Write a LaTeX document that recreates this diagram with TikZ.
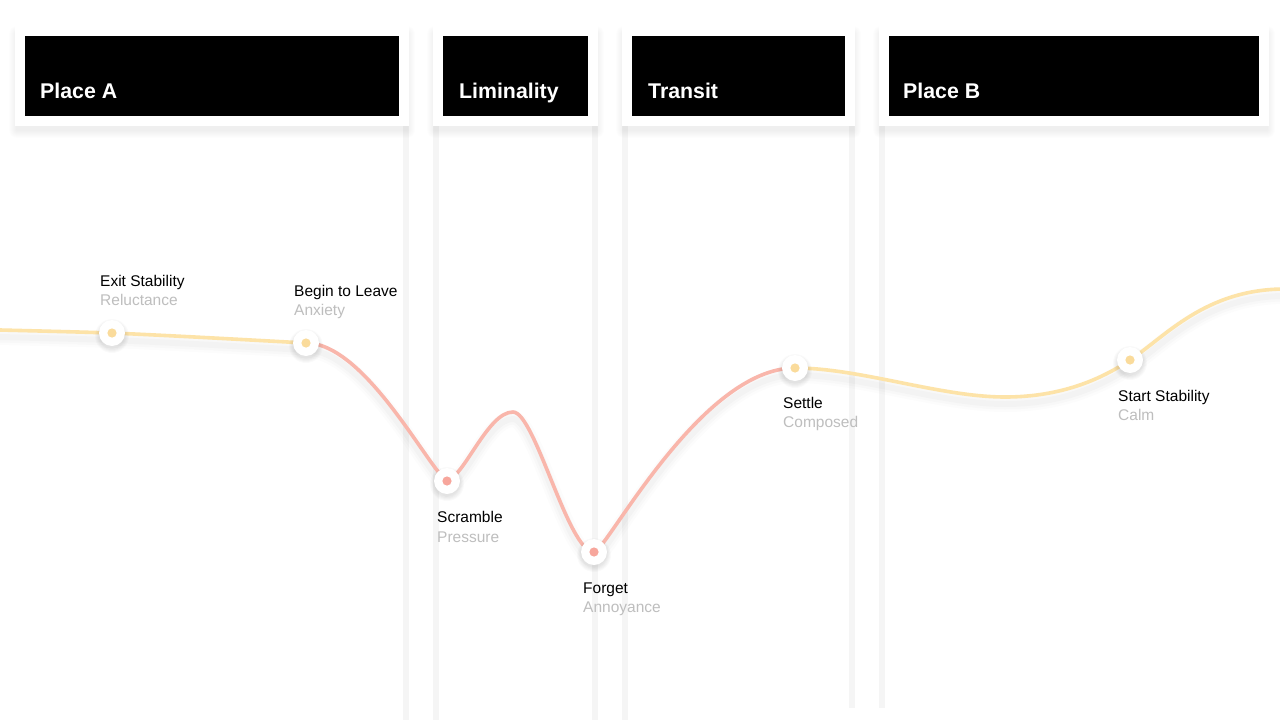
\documentclass[tikz,border=0pt]{standalone}
\usepackage{fontspec}
\setmainfont{Liberation Sans}
\usetikzlibrary{calc}
\definecolor{yel}{HTML}{FDE3A8}
\definecolor{yeldot}{HTML}{FADB9B}
\definecolor{pnk}{HTML}{F9B6AB}
\definecolor{pnkdot}{HTML}{F7A69C}
\definecolor{stripcol}{HTML}{F5F5F5}
\definecolor{subcol}{HTML}{BEBEBE}
\newcommand\softbox[4]{%
  \foreach \i in {1,...,8} {\fill[black, opacity=0.008, rounded corners=\i] (#1-\i+2, #2-\i+8) rectangle (#3+\i-2, #4+\i+4);}%
}
\newcommand\dotshadow[1]{%
  \foreach \r in {13,14,15,16,17} {\fill[black, opacity=0.018] ($(#1)+(0,3)$) circle (\r);}%
}
\begin{document}
\begin{tikzpicture}[x=1pt,y=-1pt,
  card/.style={rectangle, fill=black, draw=white, line width=10, inner sep=0, anchor=north west},
  hdr/.style={anchor=base west, inner sep=0, text=white, font=\bfseries\fontsize{21.3}{26}\selectfont},
  strip/.style={fill=stripcol},
  yline/.style={draw=yel, line width=3.6, line cap=round},
  pline/.style={draw=pnk, line width=3.6, line cap=round},
  shline/.style={draw=black, line cap=round},
  dotw/.style={circle, fill=white, minimum size=26, inner sep=0},
  ttl/.style={anchor=base west, inner sep=0, text=black, font=\fontsize{15.5}{18}\selectfont},
  subt/.style={anchor=base west, inner sep=0, text=subcol, font=\fontsize{15.5}{18}\selectfont}]
\useasboundingbox[fill=white] (0,0) rectangle (1280,720);

% vertical strips
\fill[strip] (403,126) rectangle (409,720);
\fill[strip] (433,126) rectangle (439,720);
\fill[strip] (592,126) rectangle (598,720);
\fill[strip] (622,126) rectangle (628,720);
\fill[strip] (849,126) rectangle (855,708);
\fill[strip] (879,126) rectangle (885,708);

% card shadows
\softbox{15}{26}{409}{126}
\softbox{433}{26}{598}{126}
\softbox{622}{26}{855}{126}
\softbox{879}{26}{1269}{126}

% cards
\node[card, minimum width=384, minimum height=90] (cardA) at (15,26) {};
\node[card, minimum width=155, minimum height=90] (cardL) at (433,26) {};
\node[card, minimum width=223, minimum height=90] (cardT) at (622,26) {};
\node[card, minimum width=380, minimum height=90] (cardB) at (879,26) {};
\node[hdr] (hA) at (40,98) {Place A};
\node[hdr] (hL) at (459,98) {Liminality};
\node[hdr] (hT) at (648,98) {Transit};
\node[hdr] (hB) at (903,98) {Place B};

% points
\coordinate (p0) at (0,330);
\coordinate (e) at (112,333);
\coordinate (b) at (306,343);
\coordinate (s) at (447,481);
\coordinate (pk) at (513,412);
\coordinate (f) at (594,552);
\coordinate (t) at (795,368);
\coordinate (dp) at (1005,397);
\coordinate (c) at (1130,360);
\coordinate (pe) at (1285,289);

% curve shadow
\begin{scope}[transform canvas={yshift=-7pt}]
\foreach \w/\o in {16/0.01, 11/0.014, 6/0.018} {
\draw[shline, line width=\w, opacity=\o] (p0) .. controls (40,331) and (80,332) .. (e)
  .. controls (180,336) and (250,340) .. (b)
  .. controls (365,343) and (428,468) .. (s)
  .. controls (465,475) and (488,412) .. (pk)
  .. controls (535,412) and (568,552) .. (f)
  .. controls (606,552) and (700,368) .. (t)
  .. controls (860,368) and (940,397) .. (dp)
  .. controls (1060,397) and (1100,380) .. (c)
  .. controls (1165,337) and (1205,289) .. (pe);
}
\end{scope}

% curve
\draw[yline] (p0) .. controls (40,331) and (80,332) .. (e)
  .. controls (180,336) and (250,340) .. (b);
\draw[pline] (b) .. controls (365,343) and (428,468) .. (s)
  .. controls (465,475) and (488,412) .. (pk)
  .. controls (535,412) and (568,552) .. (f)
  .. controls (606,552) and (700,368) .. (t);
\draw[yline] (t) .. controls (860,368) and (940,397) .. (dp)
  .. controls (1060,397) and (1100,380) .. (c)
  .. controls (1165,337) and (1205,289) .. (pe);

% dots
\foreach \n in {e,b,s,f,t,c} {\dotshadow{\n}}
\node[dotw] (de) at (e) {};
\node[dotw] (db) at (b) {};
\node[dotw] (ds) at (s) {};
\node[dotw] (df) at (f) {};
\node[dotw] (dt) at (t) {};
\node[dotw] (dc) at (c) {};
\fill[yeldot] (de) circle (4.6);
\fill[yeldot] (db) circle (4.6);
\fill[pnkdot] (ds) circle (4.6);
\fill[pnkdot] (df) circle (4.6);
\fill[yeldot] (dt) circle (4.6);
\fill[yeldot] (dc) circle (4.6);

% labels
\node[ttl] (le1) at (100,286) {Exit Stability};
\node[subt] (le2) at (100,305) {Reluctance};
\node[ttl] (lb1) at (294,296) {Begin to Leave};
\node[subt] (lb2) at (294,315) {Anxiety};
\node[ttl] (ls1) at (437,522) {Scramble};
\node[subt] (ls2) at (437,542) {Pressure};
\node[ttl] (lf1) at (583,593) {Forget};
\node[subt] (lf2) at (583,612) {Annoyance};
\node[ttl] (lt1) at (783,408) {Settle};
\node[subt] (lt2) at (783,427) {Composed};
\node[ttl] (lc1) at (1118,401) {Start Stability};
\node[subt] (lc2) at (1118,420) {Calm};
\end{tikzpicture}
\end{document}
